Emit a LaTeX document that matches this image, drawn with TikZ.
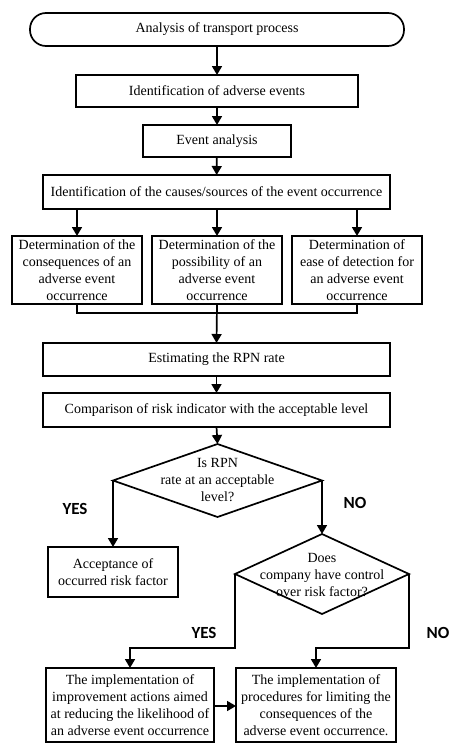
\documentclass[tikz,border=0pt]{standalone}
\usepackage{fontspec}
\setmainfont{Liberation Serif}
\newfontfamily\lblfont{Carlito}
\usetikzlibrary{arrows.meta,shapes.geometric}
\begin{document}
\begin{tikzpicture}[x=1pt,y=-1pt,
  every node/.style={inner sep=0pt,outer sep=0pt},
  txt/.style={font=\fontsize{14}{17}\selectfont,align=center},
  boxnode/.style={txt,draw,line width=1.7pt,rectangle},
  decision/.style={draw,line width=1.7pt,diamond,aspect=2},
  conn/.style={line width=1.7pt},
  arr/.style={conn,-{Triangle[width=10pt,length=9pt]}},
  yn/.style={font=\lblfont\bfseries\fontsize{17}{20}\selectfont}]
\useasboundingbox (0,0) rectangle (451,744);

\node[boxnode,rounded corners=16pt,minimum width=374pt,minimum height=33pt] (start) at (217,29.5) {Analysis of transport process};
\node[boxnode,minimum width=282pt,minimum height=32pt] (ident) at (217,91) {Identification of adverse events};
\node[boxnode,minimum width=148pt,minimum height=32pt] (event) at (217,141) {Event analysis};
\node[boxnode,minimum width=347pt,minimum height=34pt] (causes) at (216.5,192) {Identification of the causes/sources of the event occurrence};

\node[boxnode,minimum width=130pt,minimum height=68pt] (d1) at (77,270) {Determination of the\\consequences of an\\adverse event\\occurrence};
\node[boxnode,minimum width=130pt,minimum height=68pt] (d2) at (217,270) {Determination of the\\possibility of an\\adverse event\\occurrence};
\node[boxnode,minimum width=130pt,minimum height=68pt] (d3) at (357,270) {Determination of\\ease of detection for\\an adverse event\\occurrence};

\node[boxnode,minimum width=347pt,minimum height=33pt] (rpn) at (216.5,359.5) {Estimating the RPN rate};
\node[boxnode,minimum width=347pt,minimum height=34pt] (comp) at (216.5,410) {Comparison of risk indicator with the acceptable level};

\node[decision,minimum width=209pt,minimum height=73pt] (dia1) at (217.5,480.5) {};
\node[txt] (dia1t) at (217.5,480) {Is RPN\\rate at an acceptable\\level?};

\node[boxnode,minimum width=130pt,minimum height=50pt] (acc) at (113,572) {Acceptance of\\occurred risk factor};

\node[decision,minimum width=174pt,minimum height=80pt] (dia2) at (322,574) {};
\node[txt] (dia2t) at (322,575) {Does\\company have control\\over risk factor?};

\node[boxnode,minimum width=168pt,minimum height=74pt] (impL) at (130,705) {The implementation of\\improvement actions aimed\\at reducing the likelihood of\\an adverse event occurrence};
\node[boxnode,minimum width=160pt,minimum height=74pt] (impR) at (316,705) {The implementation of\\procedures for limiting the\\consequences of the\\adverse event occurrence.};

\coordinate (m) at (217,313);
\coordinate (yb) at (130,648);
\coordinate (nb) at (316,648);

\draw[arr] (start) -- (ident);
\draw[arr] (ident) -- (event);
\draw[arr] (event) -- (causes);
\draw[arr] (causes.south -| d1.north) -- (d1.north);
\draw[arr] (causes.south -| d2.north) -- (d2.north);
\draw[arr] (causes.south -| d3.north) -- (d3.north);
\draw[conn] (d1.south) -- (d1.south |- m) -- (d3.south |- m) -- (d3.south);
\draw[arr] (d2.south) -- (rpn.north);
\draw[arr] (rpn) -- (comp);
\draw[arr] (comp.south) -- (dia1.north);
\draw[arr] (dia1.west) -- (dia1.west |- acc.north);
\draw[arr] (dia1.east) -- (dia1.east |- dia2.north);
\draw[arr] (dia2.west) |- (yb) -- (impL.north);
\draw[arr] (dia2.east) |- (nb) -- (impR.north);
\draw[arr] (impL.east |- 0,706) -- (impR.west |- 0,706);

\node[yn] (yes1) at (75,509) {YES};
\node[yn] (no1) at (355,503) {NO};
\node[yn] (yes2) at (204,633) {YES};
\node[yn] (no2) at (438,633) {NO};
\end{tikzpicture}
\end{document}
